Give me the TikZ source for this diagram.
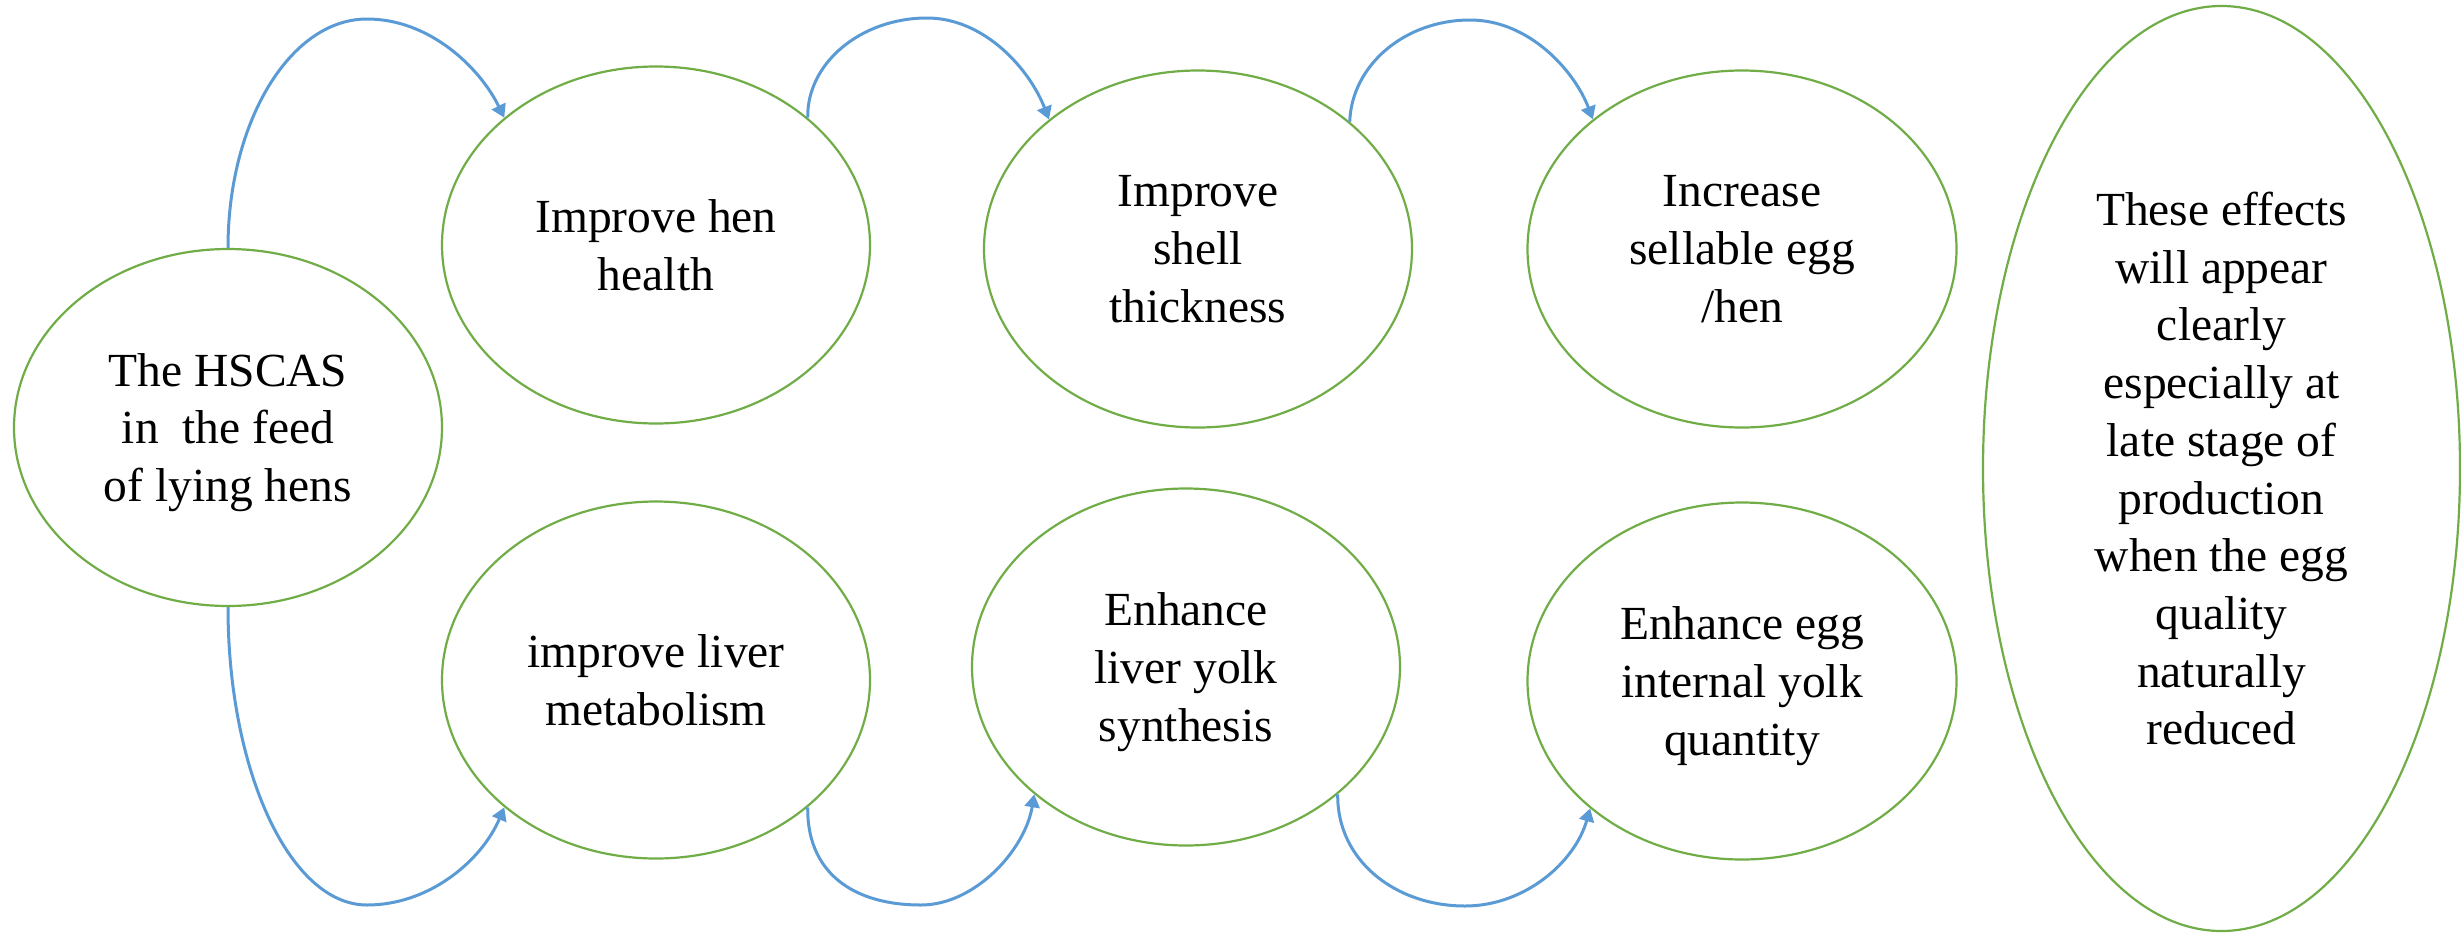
\documentclass[tikz,border=0pt]{standalone}
\usepackage{fontspec}
\setmainfont{Liberation Serif}
\usetikzlibrary{arrows.meta,shapes.geometric}
\definecolor{egreen}{RGB}{112,173,71}
\definecolor{ablue}{RGB}{91,155,213}
\begin{document}
\begin{tikzpicture}[x=1pt,y=-1pt,
  bubble/.style={draw=egreen, line width=2.2pt, ellipse, inner sep=0pt,
    align=center, font=\fontsize{47.5}{57.7}\selectfont, text depth=0pt,
    minimum width=428pt, minimum height=357pt},
  link/.style={draw=ablue, line width=3pt, -{Triangle[width=15pt,length=13pt]}}]
\fill[white] (0,0) rectangle (2461,932);
\useasboundingbox (0,0) rectangle (2461,932);

\node[bubble] (A) at (228,427.5) {The HSCAS\\in~~the feed\\of lying hens};
\node[bubble] (B) at (656,245) {Improve hen\\health};
\node[bubble] (C) at (1198,249) {Improve\\shell\\thickness};
\node[bubble, minimum width=429pt] (D) at (1742,249) {Increase\\sellable egg\\/hen};
\node[bubble] (E) at (656,680) {improve liver\\metabolism};
\node[bubble] (F) at (1186,667) {Enhance\\liver yolk\\synthesis};
\node[bubble, minimum width=429pt] (G) at (1742,681) {Enhance egg\\internal yolk\\quantity};
\node[bubble, minimum width=477pt, minimum height=925pt] (H) at (2221.5,468.5)
  {These effects\\will appear\\clearly\\especially at\\late stage of\\production\\when the egg\\quality\\naturally\\reduced};

\coordinate (t1) at (367,19);
\coordinate (t2) at (927,18);
\coordinate (t3) at (1470,20);
\coordinate (b1) at (367,905);
\coordinate (b2) at (921,905);
\coordinate (b3) at (1465,906);

\draw[link] (A.north) .. controls (228,122) and (290,19) .. (t1) .. controls (430,19) and (480,68) .. (B.140);
\draw[link] (B.40) .. controls (806.7,63) and (861,18) .. (t2) .. controls (985,18) and (1030,70) .. (C.139);
\draw[link] (C.40) .. controls (1351.7,65) and (1405,20) .. (t3) .. controls (1530,20) and (1575,72) .. (D.139);
\draw[link] (A.south) .. controls (228,771) and (290,905) .. (b1) .. controls (430,905) and (482,860) .. (E.220);
\draw[link] (E.-40) .. controls (806.7,870) and (850,905) .. (b2) .. controls (975,905) and (1025,850) .. (F.220);
\draw[link] (F.-40) .. controls (1336.7,860) and (1395,906) .. (b3) .. controls (1525,906) and (1575,862) .. (G.220);
\end{tikzpicture}
\end{document}
